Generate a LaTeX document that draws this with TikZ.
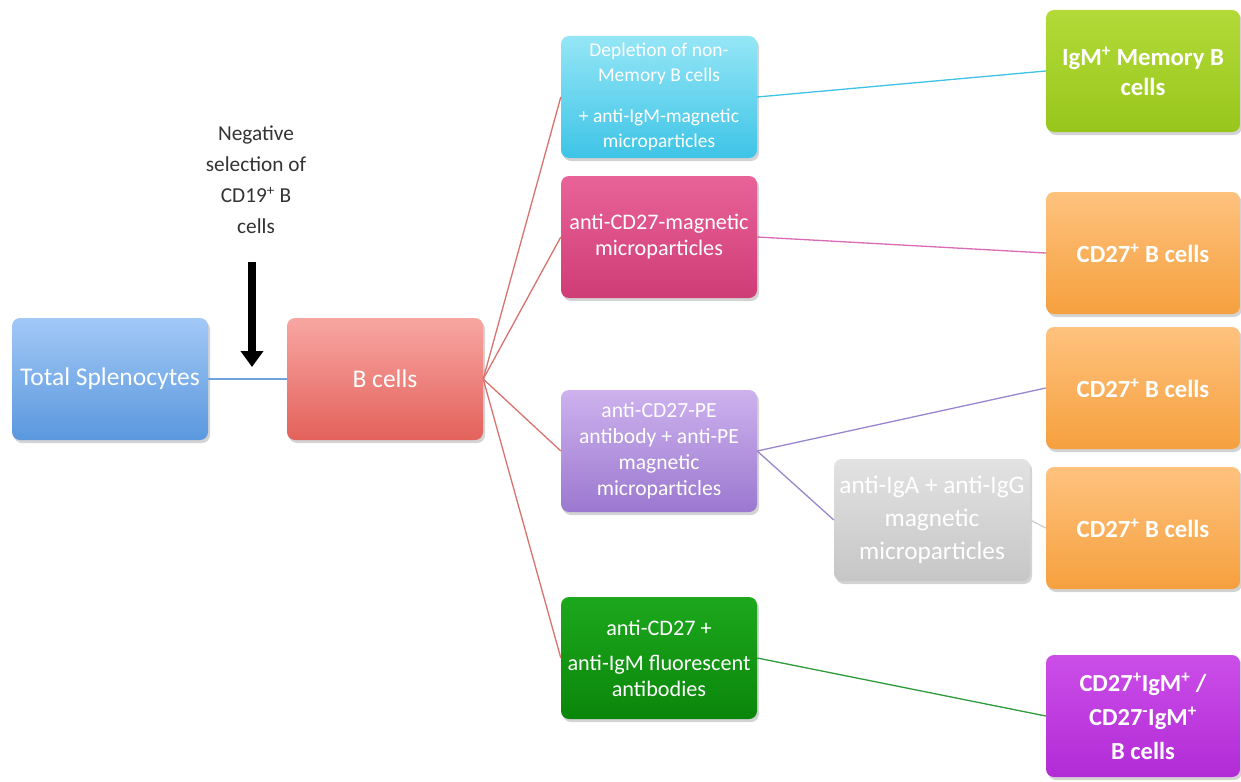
\documentclass[tikz,border=0pt]{standalone}
\usepackage{fontspec}
\setmainfont{Carlito}
\usetikzlibrary{shadows,arrows.meta}
\begin{document}
\begin{tikzpicture}[x=1pt,y=-1pt,
  box/.style={rounded corners=8pt, minimum width=196pt, minimum height=122pt,
    align=center, text=white, inner sep=2pt,
    drop shadow={shadow xshift=2pt,shadow yshift=-3pt,opacity=0.35}},
  wide/.style={box, minimum width=194pt},
  link/.style={line width=1.3pt},
  fA/.style={font=\fontsize{25.5}{30}\selectfont},
  fB/.style={font=\fontsize{22.2}{26}\selectfont},
  fC/.style={font=\bfseries\fontsize{24.7}{30}\selectfont},
]
\definecolor{bluetop}{HTML}{A2C8F6}\definecolor{bluebot}{HTML}{5A98DE}
\definecolor{redtop}{HTML}{F8A6A2}\definecolor{redbot}{HTML}{E3615B}
\definecolor{cyantop}{HTML}{95E6F6}\definecolor{cyanbot}{HTML}{3EC4E6}
\definecolor{pinktop}{HTML}{E86398}\definecolor{pinkbot}{HTML}{CF3C76}
\definecolor{purtop}{HTML}{CDB2EE}\definecolor{purbot}{HTML}{9B78CF}
\definecolor{grntop}{HTML}{1DA81D}\definecolor{grnbot}{HTML}{0A860A}
\definecolor{limetop}{HTML}{B3DA38}\definecolor{limebot}{HTML}{98C61C}
\definecolor{orgtop}{HTML}{FEC27E}\definecolor{orgbot}{HTML}{F6A03E}
\definecolor{graytop}{HTML}{E2E2E2}\definecolor{graybot}{HTML}{C6C6C6}
\definecolor{magtop}{HTML}{CB4EE8}\definecolor{magbot}{HTML}{B22BD6}
\definecolor{lnblue}{HTML}{6FA3DC}\definecolor{lnred}{HTML}{D9726C}
\definecolor{lncyan}{HTML}{3FC2E6}\definecolor{lnpink}{HTML}{D86AB6}
\definecolor{lnpur}{HTML}{9A86CF}\definecolor{lngreen}{HTML}{2E9A3A}
\definecolor{lngray}{HTML}{D0D0D0}\definecolor{txtdark}{HTML}{333333}

\useasboundingbox (0,0) rectangle (1241,781);

% nodes
\node[box, fA, top color=bluetop, bottom color=bluebot] (tot) at (110,379) {Total Splenocytes};
\node[box, fA, top color=redtop, bottom color=redbot] (bc) at (385,379) {B cells};

\node[box, font=\fontsize{19.5}{25.5}\selectfont, top color=cyantop, bottom color=cyanbot] (dep) at (659,97)
  {Depletion of non-\\Memory B cells\\[15pt]+ anti-IgM-magnetic\\microparticles};
\node[box, fB, top color=pinktop, bottom color=pinkbot] (mag) at (659,237)
  {anti-CD27-magnetic\\microparticles};
\node[box, font=\fontsize{21.6}{26}\selectfont, top color=purtop, bottom color=purbot] (pe) at (659,451)
  {anti-CD27-PE\\antibody + anti-PE\\magnetic\\microparticles};
\node[box, fB, top color=grntop, bottom color=grnbot] (fl) at (659,658)
  {anti-CD27 +\\[9pt]anti-IgM fluorescent\\antibodies};

\node[box, font=\fontsize{25.3}{33}\selectfont, top color=graytop, bottom color=graybot] (igag) at (932,520)
  {anti-IgA + anti-IgG\\magnetic\\microparticles};

\node[wide, fC, top color=limetop, bottom color=limebot] (mem) at (1143,71)
  {IgM\textsuperscript{+} Memory B\\cells};
\node[wide, fC, top color=orgtop, bottom color=orgbot] (o1) at (1143,253)
  {CD27\textsuperscript{+} B cells};
\node[wide, fC, top color=orgtop, bottom color=orgbot] (o2) at (1143,388)
  {CD27\textsuperscript{+} B cells};
\node[wide, fC, top color=orgtop, bottom color=orgbot] (o3) at (1143,528)
  {CD27\textsuperscript{+} B cells};
\node[wide, font=\bfseries\fontsize{24.5}{34}\selectfont, top color=magtop, bottom color=magbot] (mg) at (1143,716)
  {CD27\textsuperscript{+}IgM\textsuperscript{+} /\\CD27\textsuperscript{-}IgM\textsuperscript{+}\\B cells};

% label and arrow
\node[align=center, text=txtdark, font=\fontsize{21.3}{31}\selectfont] (neg) at (256,180)
  {Negative\\selection of\\CD19\textsuperscript{+} B\\cells};
\coordinate (arrTop) at (252,262);
\coordinate (arrBot) at (252,367);
\draw[line width=8pt, -{Triangle[width=22pt,length=16pt]}] (arrTop) -- (arrBot);

% connectors
\draw[link, lnblue] (tot.east) -- (bc.west);
\draw[link, lnred] (bc.east) -- (dep.west);
\draw[link, lnred] (bc.east) -- (mag.west);
\draw[link, lnred] (bc.east) -- (pe.west);
\draw[link, lnred] (bc.east) -- (fl.west);
\draw[link, lncyan] (dep.east) -- (mem.west);
\draw[link, lnpink] (mag.east) -- (o1.west);
\draw[link, lnpur] (pe.east) -- (o2.west);
\draw[link, lnpur] (pe.east) -- (igag.west);
\draw[link, lngray] (igag.east) -- (o3.west);
\draw[link, lngreen] (fl.east) -- (mg.west);
\end{tikzpicture}
\end{document}
